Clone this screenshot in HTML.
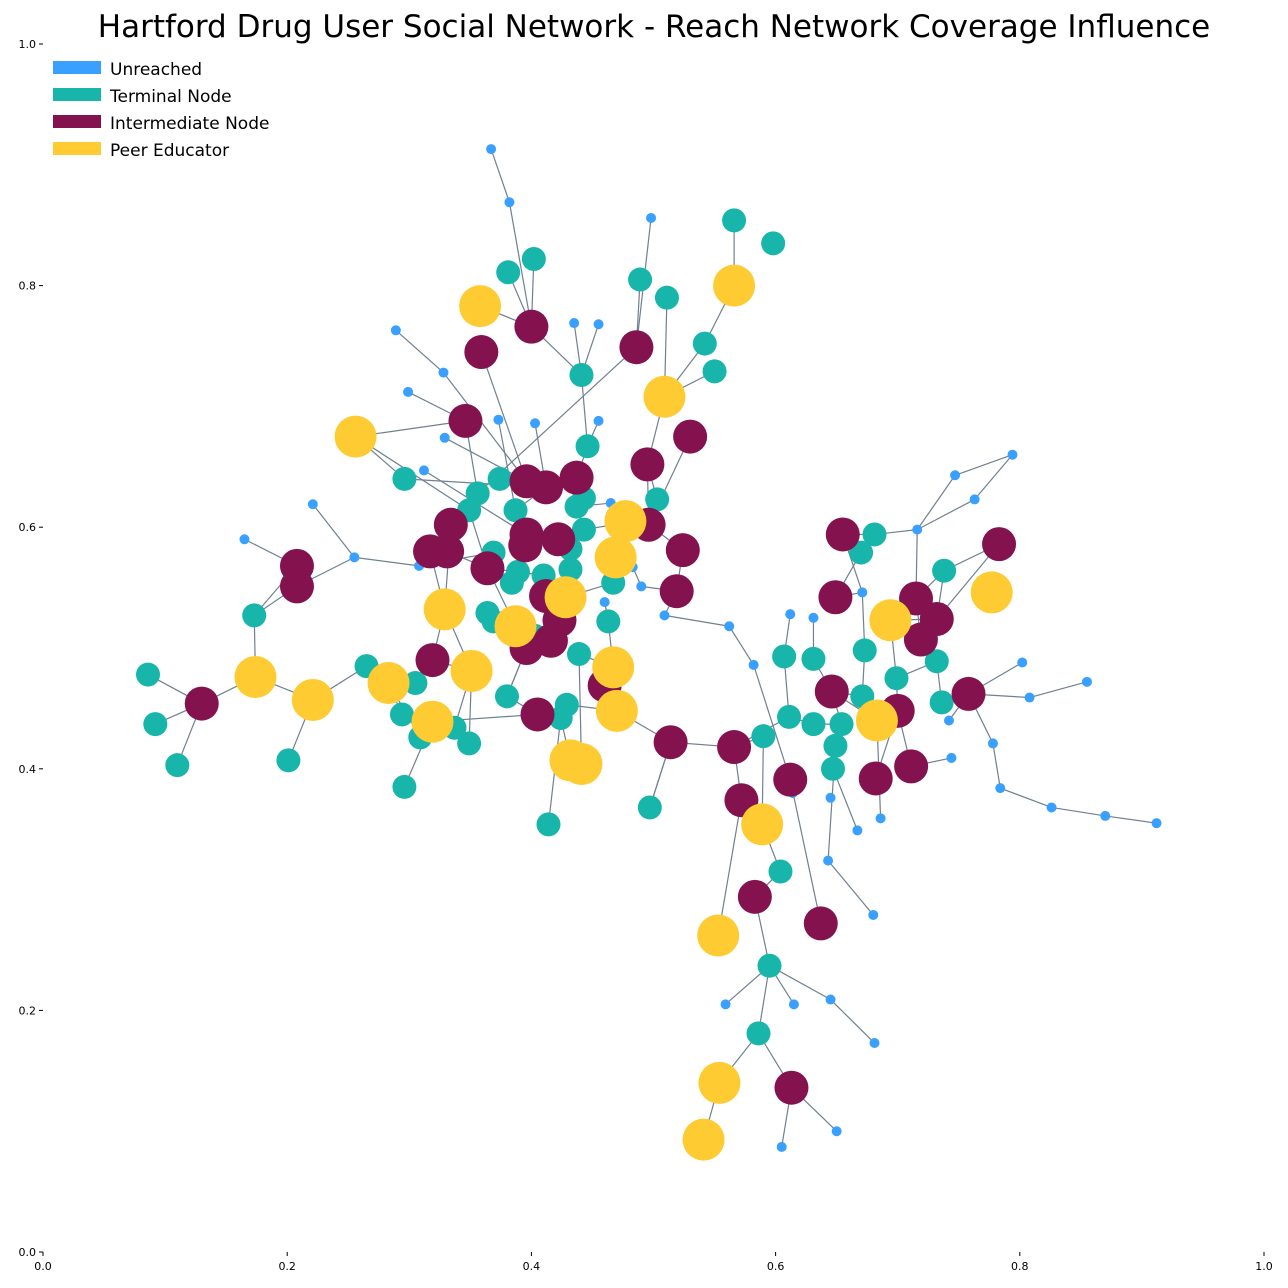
<!DOCTYPE html>
<html><head><meta charset="utf-8">
<style>
html,body{margin:0;padding:0;background:#fff;}
svg{display:block;font-family:"DejaVu Sans","Liberation Sans",sans-serif;}
</style></head>
<body>
<svg id="chart" width="1288" height="1288" viewBox="0 0 1288 1288">
<text x="654" y="37" text-anchor="middle" font-size="31" fill="#000">Hartford Drug User Social Network - Reach Network Coverage Influence</text>
<g id="axes"></g>
<g id="edges"></g>
<g id="nodes"></g>
<g id="legend">
<rect x="53" y="61" width="48" height="13" fill="#3aa0ff"/>
<text x="110" y="75" font-size="17">Unreached</text>
<rect x="53" y="88" width="48" height="13" fill="#18b5aa"/>
<text x="110" y="102" font-size="17">Terminal Node</text>
<rect x="53" y="115" width="48" height="13" fill="#84124e"/>
<text x="110" y="129" font-size="17">Intermediate Node</text>
<rect x="53" y="142" width="48" height="13" fill="#ffcb33"/>
<text x="110" y="156" font-size="17">Peer Educator</text>
</g>
</svg>
<script>
const unreachedX=[.367,.382,.498,.289,.328,.299,.435,.455,.373,.403,.455,.329,.312,.221,.165,.255,.308,.465,.473,.483,.490,.460,.509,.562,.582,.612,.631,.671,.794,.747,.763,.716,.802,.855,.808,.742,.744,.778,.784,.826,.870,.912,.614,.645,.667,.686,.643,.680,.559,.615,.645,.681,.650,.605];
const unreachedY=[.913,.869,.856,.763,.728,.712,.769,.768,.689,.686,.688,.674,.647,.619,.590,.575,.568,.620,.603,.567,.551,.538,.527,.518,.486,.528,.525,.546,.660,.643,.623,.598,.488,.472,.459,.440,.409,.421,.384,.368,.361,.355,.380,.376,.349,.359,.324,.279,.205,.205,.209,.173,.100,.087];
const terminalX=[.566,.598,.402,.381,.489,.511,.542,.550,.441,.446,.296,.374,.356,.349,.387,.443,.437,.443,.432,.503,.369,.389,.384,.410,.432,.467,.364,.369,.403,.463,.439,.681,.670,.738,.673,.607,.631,.173,.086,.092,.110,.265,.305,.294,.309,.337,.349,.380,.429,.424,.201,.296,.414,.497,.699,.732,.736,.671,.611,.590,.631,.654,.649,.647,.604,.595,.586];
const terminalY=[.854,.835,.822,.811,.805,.790,.752,.729,.726,.667,.640,.640,.628,.614,.614,.624,.617,.598,.582,.623,.579,.563,.554,.560,.565,.554,.529,.522,.510,.522,.495,.594,.579,.564,.498,.493,.491,.527,.478,.437,.403,.485,.471,.445,.426,.434,.421,.460,.453,.442,.407,.385,.354,.368,.475,.489,.455,.460,.443,.427,.437,.437,.419,.400,.315,.237,.181];
const intermediateX=[.400,.359,.486,.346,.530,.495,.396,.412,.437,.334,.317,.331,.396,.395,.364,.422,.496,.524,.519,.412,.423,.396,.416,.655,.649,.783,.715,.719,.732,.208,.208,.130,.319,.405,.460,.514,.566,.572,.646,.700,.682,.711,.758,.612,.583,.637,.613];
const intermediateY=[.766,.745,.749,.688,.675,.652,.638,.633,.641,.602,.580,.580,.594,.585,.566,.590,.602,.581,.547,.543,.523,.500,.506,.594,.542,.586,.541,.507,.524,.568,.551,.454,.490,.445,.469,.422,.418,.374,.464,.448,.392,.402,.462,.391,.294,.272,.136];
const peerX=[.358,.566,.509,.256,.477,.469,.428,.329,.387,.467,.351,.283,.221,.174,.470,.319,.432,.441,.683,.694,.777,.589,.553,.554,.541];
const peerY=[.783,.800,.708,.675,.605,.575,.542,.532,.518,.484,.481,.471,.457,.476,.448,.439,.407,.404,.440,.523,.546,.354,.262,.140,.093];
const edgeList=["U0-U1","U1-I0","T2-I0","T3-I0","P0-I0","I0-T8","U6-T8","U7-T8","T8-T9","U2-I2","I2-T4","I2-T12","T5-P2","T6-P2","T7-P2","T0-P1","P1-T6","P2-I5","T19-I5","I4-I16","I1-I6","U3-U4","U4-I6","U8-T14","U9-I7","U10-T9","T9-I8","U5-I3","I3-T12","U11-I6","U12-I12","P3-T10","T10-I7","P3-T13","U13-U15","U14-I29","U15-I30","U15-U16","U16-T20","I29-T37","I30-T37","T37-P13","P13-I31","I31-T38","I31-T39","I31-T40","P13-P12","P12-T41","T50-P12","T42-I32","P11-T43","P11-T44","P11-T41","P15-T44","P15-T45","P15-T46","P10-T45","P10-T46","P10-I32","P10-P7","P7-I10","I10-I11","I11-I14","I9-T13","I9-I11","I14-T20","I14-P8","T26-P8","T27-P8","P8-T28","P8-I21","I21-I22","I22-T28","I22-I20","I20-I19","I19-T23","T23-T21","T21-I14","I12-I13","I13-I15","I15-T18","T18-T24","T24-I19","I19-P6","P6-T25","T25-P5","P5-P4","P4-U18","U18-T17","T17-T16","T16-T15","T15-I8","I8-I7","I7-T14","T14-I12","I13-T22","T22-T21","I15-T17","T16-U17","I16-P4","I16-I5","I16-T19","I17-I16","I17-I18","I18-U22","I18-U20","U20-U19","U21-T29","T29-P9","P9-I34","P9-T30","T30-P17","P9-P14","P14-T48","I33-T47","T47-I21","T49-T48","T49-P16","P16-P17","T52-T49","P14-I35","I35-T53","I35-I36","I36-I37","U22-U23","U23-U24","U24-I43","U25-T35","U26-T36","T35-T58","T58-I36","T36-I38","T58-T60","T60-T61","T61-T62","T62-T63","I38-T61","I38-T57","T57-T34","T34-U27","U27-I24","I24-T32","T32-T31","T31-I23","T31-U31","U31-U29","U29-U28","U28-U30","U30-U31","I26-I27","T33-I28","I25-I28","I28-P19","P19-I27","P19-T54","T54-I39","I39-P18","P18-I38","I39-I40","I41-I39","I41-U36","I42-U35","I42-T56","T56-T55","T55-T54","I42-U34","U34-U33","U32-I42","I42-U37","U37-U38","U38-U39","U39-U40","U40-U41","P18-U45","T63-U44","T62-U46","U46-U47","I43-U42","I43-I45","P21-I37","P21-T64","I44-T64","I44-T65","T65-U48","T65-U49","T65-U50","U50-U51","T65-T66","T66-P23","P23-P24","T66-I46","I46-U52","I46-U53","P22-I37","T59-P21","T59-I36","T51-P15","I33-P15","U27-I23","U31-I26","I25-T33","I26-T33","T53-I35","P3-I3","P11-T42","I32-P7","U16-I10","T11-I6","I9-P7","T13-I14","I21-T47"];
const W=1288, H=1288, x0=43, x1=1264, y0=1252, y1=44;
const sx=v=>x0+(x1-x0)*v, sy=v=>y0-(y0-y1)*v;
const NS="http://www.w3.org/2000/svg";
const groups={U:[unreachedX,unreachedY,5,"#3aa0ff","unreached-node"],T:[terminalX,terminalY,12,"#18b5aa","terminal-node"],I:[intermediateX,intermediateY,17,"#84124e","intermediate-node"],P:[peerX,peerY,21,"#ffcb33","peer-educator-node"]};
function pos(id){const g=groups[id[0]];const i=+id.slice(1);return [sx(g[0][i]),sy(g[1][i])];}
const ax=document.getElementById('axes');
const ticks=[0,0.2,0.4,0.6,0.8,1.0];
const tickLabels=["0.0","0.2","0.4","0.6","0.8","1.0"];
ticks.forEach((t,i)=>{
  let l=document.createElementNS(NS,'line');
  l.setAttribute('x1',sx(t));l.setAttribute('x2',sx(t));l.setAttribute('y1',y0);l.setAttribute('y2',y0+4);l.setAttribute('stroke','#000');
  
  
  ax.appendChild(l);
  let tx=document.createElementNS(NS,'text');
  tx.setAttribute('x',sx(t));tx.setAttribute('y',y0+18);tx.setAttribute('text-anchor','middle');tx.setAttribute('font-size','11');tx.textContent=tickLabels[i];
  
  
  ax.appendChild(tx);
  let l2=document.createElementNS(NS,'line');
  l2.setAttribute('x1',x0-4);l2.setAttribute('x2',x0);l2.setAttribute('y1',sy(t));l2.setAttribute('y2',sy(t));l2.setAttribute('stroke','#000');
  
  
  ax.appendChild(l2);
  let ty=document.createElementNS(NS,'text');
  ty.setAttribute('x',x0-7);ty.setAttribute('y',sy(t)+4);ty.setAttribute('text-anchor','end');ty.setAttribute('font-size','11');ty.textContent=tickLabels[i];
  
  
  ax.appendChild(ty);
});
const eg=document.getElementById('edges');
edgeList.forEach(e=>{
  const [a,b]=e.split('-');const p=pos(a),q=pos(b);
  const l=document.createElementNS(NS,'line');
  l.setAttribute('x1',p[0]);l.setAttribute('y1',p[1]);l.setAttribute('x2',q[0]);l.setAttribute('y2',q[1]);
  l.setAttribute('stroke','#708090');l.setAttribute('stroke-width','1.2');
  
  
  eg.appendChild(l);
});
const ng=document.getElementById('nodes');
["U","T","I","P"].forEach(k=>{
  const g=groups[k];
  g[0].forEach((v,i)=>{
    const c=document.createElementNS(NS,'circle');
    c.setAttribute('cx',sx(v));c.setAttribute('cy',sy(g[1][i]));c.setAttribute('r',g[2]);c.setAttribute('fill',g[3]);
    
    
    ng.appendChild(c);
  });
});
</script>
</body></html>
